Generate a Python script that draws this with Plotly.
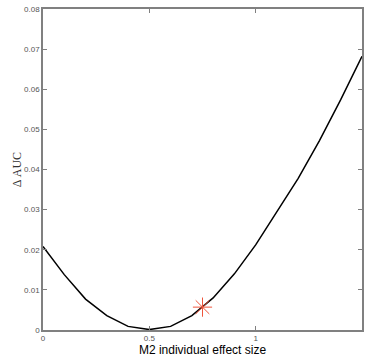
import plotly.graph_objects as go

effect_size = [0.0, 0.1, 0.2, 0.3, 0.4, 0.5, 0.6, 0.7, 0.8, 0.9, 1.0, 1.1, 1.2, 1.3, 1.4, 1.5]
delta_auc = [0.0208, 0.0138, 0.0077, 0.0036, 0.0009, 0.0001, 0.0009, 0.0036, 0.0080,
             0.0140, 0.0212, 0.0295, 0.0378, 0.0472, 0.0574, 0.0682]
marker_x = [0.75]
marker_y = [0.0057]
x_ticks = [0, 0.5, 1, 1.5]
x_tick_labels = ["0", "0.5", "1", "1.5"]
y_ticks = [0, 0.01, 0.02, 0.03, 0.04, 0.05, 0.06, 0.07, 0.08]
y_tick_labels = ["0", "0.01", "0.02", "0.03", "0.04", "0.05", "0.06", "0.07", "0.08"]

fig = go.Figure()
fig.add_trace(go.Scatter(x=effect_size, y=delta_auc, mode="lines",
                         line=dict(color="black", width=1.5), showlegend=False,
                         cliponaxis=False))
fig.add_trace(go.Scatter(x=marker_x, y=marker_y, mode="markers",
                         marker=dict(symbol="asterisk-open", size=16,
                                     line=dict(color="#e8303a", width=1)),
                         showlegend=False))

axis_common = dict(showgrid=False, zeroline=False, showline=True, linecolor="#808080",
                   linewidth=1.5, mirror="ticks", ticks="inside", ticklen=4,
                   tickcolor="#808080",
                   tickfont=dict(family="Liberation Sans, Arial", size=8, color="#555555"))

fig.update_layout(
    width=367, height=362,
    margin=dict(l=43, r=3, t=9, b=32),
    paper_bgcolor="white", plot_bgcolor="white",
    xaxis=dict(range=[0, 1.5], tickvals=x_ticks, ticktext=x_tick_labels,
               title=dict(text="M2 individual effect size",
                          font=dict(family="Liberation Sans, Arial", size=12, color="black"),
                          standoff=2),
               **axis_common),
    yaxis=dict(range=[0, 0.08], tickvals=y_ticks, ticktext=y_tick_labels,
               **axis_common),
    annotations=[dict(text="Δ AUC", xref="paper", yref="paper",
                      x=-0.082, y=0.5, xanchor="center", yanchor="middle",
                      textangle=-90, showarrow=False,
                      font=dict(family="Liberation Serif, Times New Roman", size=12, color="#333333"))],
)

fig.write_html("out.html", config={"displayModeBar": False},
               post_script="document.body.style.margin='0';document.body.style.overflow='hidden';")
